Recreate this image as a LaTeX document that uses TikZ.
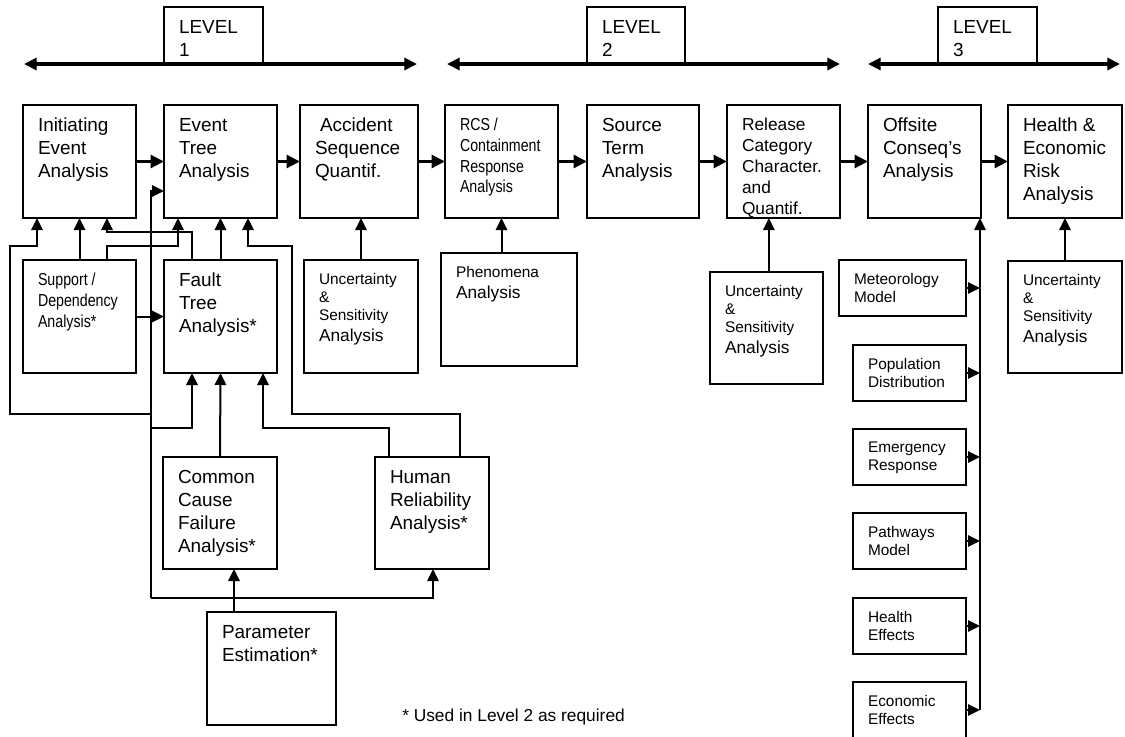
\documentclass[tikz,border=0pt]{standalone}
\usepackage{fontspec}
\setmainfont{Liberation Sans}
\newfontfamily\narrowfont{Liberation Sans}[FakeStretch=0.82]
\usetikzlibrary{arrows.meta,fit,calc}

% type sizes (1 unit = 0.75pt)
\newcommand\fmain{\fontsize{14.2}{17.25}\selectfont}
\newcommand\fsmall{\fontsize{11.55}{13.75}\selectfont}
\newcommand\fmid{\fontsize{13}{15.75}\selectfont}
\newcommand\fnarrow{\narrowfont\fontsize{13}{15.6}\selectfont}

% box with its text set in the upper left corner
% #1 name, #2..#5 corners, #6 font, #7 text
\newcommand\mkbox[7]{%
  \node[box, fit={(#2,#3) (#4,#5)}] (#1) {};
  \node[lbl, font=#6] (#1-t) at ([xshift=11.25pt,yshift=-9.75pt]#1.north west) {#7};%
}

\begin{document}
\begin{tikzpicture}[x=0.75pt,y=-0.75pt,
  box/.style={draw, line width=1pt, inner sep=0pt, outer sep=0pt},
  lbl/.style={anchor=north west, inner sep=0pt, outer sep=0pt, align=left},
  conn/.style={line width=1.5pt, -{Triangle[length=9pt,width=8.5pt]}},
  flow/.style={line width=2.5pt, -{Triangle[length=10pt,width=9.5pt]}},
  span/.style={line width=2.6pt, {Triangle[length=9.5pt,width=9pt]}-{Triangle[length=9.5pt,width=9pt]}},
]
\useasboundingbox (0,0) rectangle (1125,736);

% level spans
\coordinate (s1a) at (24,64);  \coordinate (s1b) at (417,64);
\coordinate (s2a) at (447,64); \coordinate (s2b) at (840,64);
\coordinate (s3a) at (868,64); \coordinate (s3b) at (1120,64);
\draw[span] (s1a) -- (s1b);
\draw[span] (s2a) -- (s2b);
\draw[span] (s3a) -- (s3b);
\mkbox{lv1}{164}{7}{263}{63}{\fmain}{LEVEL\\1}
\mkbox{lv2}{587}{7}{685}{63}{\fmain}{LEVEL\\2}
\mkbox{lv3}{938}{7}{1037}{63}{\fmain}{LEVEL\\3}

% main chain
\mkbox{ie}{23}{105}{136}{218}{\fmain}{Initiating\\Event\\Analysis}
\mkbox{et}{164}{105}{277}{218}{\fmain}{Event\\Tree\\Analysis}
\mkbox{as}{300}{105}{418}{218}{\fmain}{\hspace*{3.75pt}Accident\\Sequence\\Quantif.}
\mkbox{rcs}{445}{105}{558}{218}{\fnarrow}{RCS /\\Containment\\Response\\Analysis}
\mkbox{st}{587}{105}{699}{218}{\fmain}{Source\\Term\\Analysis}
\mkbox{rc}{727}{105}{840}{218}{\fmid}{Release\\Category\\Character.\\and\\Quantif.}
\mkbox{oc}{868}{105}{981}{218}{\fmain}{Offsite\\Conseq’s\\Analysis}
\mkbox{hr}{1008}{105}{1122}{218}{\fmain}{Health \&\\Economic\\Risk\\Analysis}

\draw[flow] (ie) -- (et);
\draw[flow] (et) -- (as);
\draw[flow] (as) -- (rcs);
\draw[flow] (rcs) -- (st);
\draw[flow] (st) -- (rc);
\draw[flow] (rc) -- (oc);
\draw[flow] (oc) -- (hr);

% level 1 supporting analyses
\mkbox{sd}{23}{260}{136}{373}{\fnarrow}{Support /\\Dependency\\Analysis*}
\mkbox{ft}{164}{260}{277}{373}{\fmain}{Fault\\Tree\\Analysis*}
\mkbox{u1}{304}{260}{418}{373}{\fsmall}{Uncertainty\\\&\\Sensitivity\\[1.8pt]{\fmid Analysis}}
\mkbox{ccf}{163}{457}{277}{569}{\fmain}{Common\\Cause\\Failure\\Analysis*}
\mkbox{hra}{375}{457}{489}{569}{\fmain}{Human\\Reliability\\Analysis*}
\mkbox{pe}{207}{612}{336}{725}{\fmain}{Parameter\\Estimation*}

% level 2 supporting analyses
\mkbox{ph}{441}{253}{577}{366}{\fsmall}{Phenomena\\[2pt]{\fmid Analysis}}
\mkbox{u2}{710}{272}{823}{384}{\fsmall}{Uncertainty\\\&\\Sensitivity\\[1.8pt]{\fmid Analysis}}

% level 3 supporting models
\mkbox{met}{839}{260}{966}{316}{\fsmall}{Meteorology\\Model}
\mkbox{pop}{853}{345}{966}{401}{\fsmall}{Population\\Distribution}
\mkbox{emg}{853}{429}{966}{485}{\fsmall}{Emergency\\Response}
\mkbox{pw}{853}{513}{966}{569}{\fsmall}{Pathways\\Model}
\mkbox{he}{853}{598}{966}{654}{\fsmall}{Health\\Effects}
\mkbox{ee}{853}{682}{966}{738}{\fsmall}{Economic\\Effects}
\mkbox{u3}{1008}{261}{1122}{373}{\fsmall}{Uncertainty\\\&\\Sensitivity\\[1.8pt]{\fmid Analysis}}

% routing lanes
\coordinate (c10) at (10,0);   \coordinate (c37) at (37,0);
\coordinate (c107) at (107,0); \coordinate (c151) at (151,0);
\coordinate (c178) at (178,0); \coordinate (c192) at (192,0);
\coordinate (c234) at (234,0); \coordinate (c248) at (248,0);
\coordinate (c263) at (263,0); \coordinate (c292) at (292,0);
\coordinate (c389) at (389,0); \coordinate (c433) at (433,0);
\coordinate (c460) at (460,0); \coordinate (c980) at (980,0);
\coordinate (r191) at (0,191); \coordinate (r232) at (0,232);
\coordinate (r246) at (0,246); \coordinate (r414) at (0,414);
\coordinate (r428) at (0,428); \coordinate (r598) at (0,598);
\coordinate (bus) at (151,598);

% level 1 connectors
\draw[conn] (sd.north) -- (ie.south);
\draw[conn] (sd) -- (ft);
\draw[conn] (ft.north) -- (et.south);
\draw[conn] (ccf.north) -- (ft.south);
\draw[conn] (u1.north) -- (u1.north |- as.south);
\draw[conn] (sd.north -| c107) -- (c107 |- r246) -- (c178 |- r246) -- (et.south -| c178);
\draw[conn] (ft.north -| c192) -- (c192 |- r232) -- (c107 |- r232) -- (ie.south -| c107);
\draw[conn] (hra.north -| c460) -- (c460 |- r414) -- (c292 |- r414) -- (c292 |- r246) -- (c248 |- r246) -- (et.south -| c248);
\draw[conn] (hra.north -| c389) -- (c389 |- r428) -- (c263 |- r428) -- (ft.south -| c263);

% parameter estimation feeds
\draw[conn] (pe.north -| c234) -- (ccf.south -| c234);
\draw[conn] (bus) -- (c433 |- r598) -- (hra.south -| c433);
\draw[conn] (bus) -- (c151 |- r191) -- (et.west |- r191);
\draw[conn] (c151 |- r414) -- (c10 |- r414) -- (c10 |- r246) -- (c37 |- r246) -- (ie.south -| c37);
\draw[conn] (c151 |- r428) -- (c192 |- r428) -- (ft.south -| c192);

% level 2 connectors
\draw[conn] (rcs.south |- ph.north) -- (rcs.south);
\draw[conn] ([xshift=1.75pt]u2.north) -- ([xshift=1.75pt]u2.north |- rc.south);

% level 3 connectors
\draw[conn] (u3.north) -- (hr.south);
\draw[conn] (c980 |- ee.east) -- (oc.south -| c980);
\foreach \b in {met,pop,emg,pw,he,ee}
  \draw[conn] (\b.east) -- (c980 |- \b.east);

\node[anchor=base west, inner sep=0pt, font=\fmid] (note) at (402,721) {* Used in Level 2 as required};
\end{tikzpicture}
\end{document}
